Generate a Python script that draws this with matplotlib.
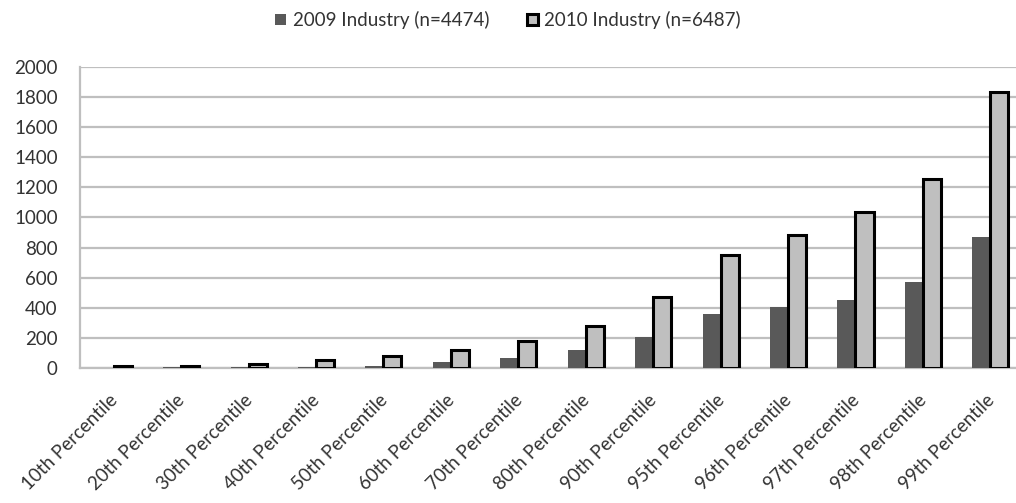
import numpy as np
import matplotlib.pyplot as plt
from matplotlib.patches import Patch
from matplotlib.transforms import ScaledTranslation

# percentile categories and values
categories = ['10th Percentile', '20th Percentile', '30th Percentile', '40th Percentile',
              '50th Percentile', '60th Percentile', '70th Percentile', '80th Percentile',
              '90th Percentile', '95th Percentile', '96th Percentile', '97th Percentile',
              '98th Percentile', '99th Percentile']
ind_2009 = [2, 4, 5, 8, 12, 40, 67, 118, 209, 360, 408, 455, 572, 871]
ind_2010 = [10, 10, 27, 52, 77, 121, 180, 277, 470, 748, 887, 1038, 1253, 1834]
yticks = [0, 200, 400, 600, 800, 1000, 1200, 1400, 1600, 1800, 2000]

plt.rcParams['font.family'] = ['Lato', 'DejaVu Sans']
txt_col = '#333333'

fig = plt.figure(figsize=(10.16, 5.03), dpi=100)
ax = fig.add_axes([0.0787, 0.2684, 0.9213, 0.5984])

x = np.arange(len(categories))
w = 0.267
ax.bar(x - w / 2, ind_2009, w, color='#595959', zorder=3)
ax.bar(x + w / 2, ind_2010, w, color='#bfbfbf', edgecolor='black', linewidth=2.2, zorder=3)

ax.set_ylim(0, 2000)
ax.set_xlim(-0.5, 13.38)
ax.set_yticks(yticks)
ax.set_xticks(x)
ax.set_xticklabels(categories, rotation=45, ha='right', rotation_mode='anchor')
ax.tick_params(axis='both', length=0, labelsize=13.5, colors=txt_col)
ax.tick_params(axis='x', pad=17)
ax.tick_params(axis='y', pad=16)
# nudge the slanted labels a bit left
for lab in ax.get_xticklabels():
    lab.set_transform(lab.get_transform() + ScaledTranslation(-0.05, 0, fig.dpi_scale_trans))

ax.yaxis.grid(True, color='#bfbfbf', linewidth=1.6, zorder=0)
for s in ['top', 'right']:
    ax.spines[s].set_visible(False)
for s in ['left', 'bottom']:
    ax.spines[s].set_color('#bfbfbf')
    ax.spines[s].set_linewidth(1.6)

handles = [Patch(facecolor='#595959', label='2009 Industry (n=4474)'),
           Patch(facecolor='#bfbfbf', edgecolor='black', linewidth=2.2,
                 label='2010 Industry (n=6487)')]
fig.legend(handles=handles, loc='center', bbox_to_anchor=(0.5, 0.96), ncol=2,
           frameon=False, fontsize=13.5, handlelength=0.6, handleheight=0.6,
           handletextpad=0.35, columnspacing=2.0, labelcolor=txt_col)

fig.savefig('out.png', dpi=100)
